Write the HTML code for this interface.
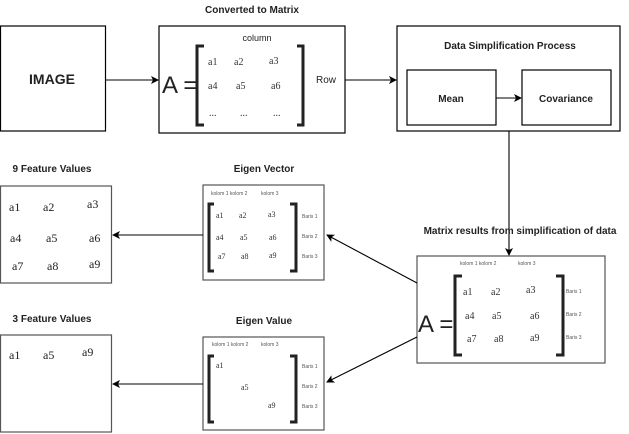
<!DOCTYPE html>
<html><head><meta charset="utf-8"><style>
html,body{margin:0;padding:0;background:#fff;}
svg{display:block;}
.s{font-family:"Liberation Sans",sans-serif;}
.r{font-family:"Liberation Serif",serif;}
</style></head><body>
<svg width="629" height="434" viewBox="0 0 629 434" xmlns="http://www.w3.org/2000/svg">
<defs>
<marker id="a" markerWidth="8" markerHeight="8" refX="7" refY="4" orient="auto" markerUnits="userSpaceOnUse">
<path d="M0,0 L8,4 L0,8 L2,4 Z" fill="#000"/></marker>
</defs>
<g fill="none" stroke="#000" stroke-width="1.2">
<rect x="0.5" y="26" width="105" height="105"/>
<rect x="159" y="26" width="186" height="107"/>
<rect x="397" y="26" width="223" height="105"/>
<rect x="407" y="70" width="89" height="55"/>
<rect x="522" y="70" width="89" height="55"/>
</g>
<g fill="none" stroke="#555" stroke-width="1.2">
<rect x="417" y="256" width="188" height="107"/>
<rect x="203" y="185" width="121" height="95"/>
<rect x="203" y="337" width="121" height="93"/>
<rect x="0.5" y="186" width="111" height="97"/>
<rect x="0.5" y="335" width="111" height="97"/>
</g>
<g stroke="#000" stroke-width="1.1" fill="none">
<line x1="106" y1="80" x2="158" y2="80" marker-end="url(#a)"/>
<line x1="345" y1="80" x2="396" y2="80" marker-end="url(#a)"/>
<line x1="496" y1="98" x2="521" y2="98" marker-end="url(#a)"/>
<line x1="509" y1="131" x2="509" y2="255" marker-end="url(#a)"/>
<line x1="203" y1="235" x2="113" y2="235" marker-end="url(#a)"/>
<line x1="203" y1="384" x2="113" y2="384" marker-end="url(#a)"/>
<line x1="417" y1="283" x2="327" y2="235" marker-end="url(#a)"/>
<line x1="417" y1="337" x2="327" y2="382" marker-end="url(#a)"/>
</g>
<g fill="none" stroke="#222" stroke-width="3">
<path d="M204,46 H197 V125 H204"/><path d="M297,46 H303 V125 H297"/>
<path d="M462,276 H455 V355 H462"/><path d="M556,276 H563 V355 H556"/>
<path d="M214,204 H209 V271 H214"/><path d="M290,204 H296 V271 H290"/>
<path d="M214,356 H209 V422 H214"/><path d="M290,356 H296 V422 H290"/>
</g>
<g class="s" font-weight="bold" font-size="10" fill="#222" text-anchor="middle">
<text x="252" y="13">Converted to Matrix</text>
<text x="510" y="49">Data Simplification Process</text>
<text x="520" y="234">Matrix results from simplification of data</text>
<text x="264" y="172">Eigen Vector</text>
<text x="264" y="324">Eigen Value</text>
<text x="52" y="172">9 Feature Values</text>
<text x="52" y="322">3 Feature Values</text>
<text x="52" y="84" font-size="14">IMAGE</text>
<text x="451" y="102">Mean</text>
<text x="566" y="102">Covariance</text>
</g>
<g class="s" fill="#222">
<text x="162" y="93" font-size="24">A =</text>
<text x="418" y="332" font-size="24">A =</text>
<text x="257" y="41" font-size="9" text-anchor="middle">column</text>
<text x="316" y="83" font-size="10">Row</text>
</g>
<g class="r" font-size="10" fill="#333">
<text x="208" y="65">a1</text><text x="234" y="65">a2</text><text x="269" y="64">a3</text>
<text x="208" y="89">a4</text><text x="236" y="89">a5</text><text x="271" y="89">a6</text>
<text x="209" y="116">...</text><text x="240" y="116">...</text><text x="273" y="116">...</text>
</g>
<g class="r" font-size="10" fill="#333">
<text x="463" y="295">a1</text><text x="491" y="295">a2</text><text x="526" y="293">a3</text>
<text x="465" y="319">a4</text><text x="492" y="319">a5</text><text x="530" y="319">a6</text>
<text x="467" y="342">a7</text><text x="494" y="342">a8</text><text x="530" y="341">a9</text>
</g>
<g class="s" font-size="5" fill="#555">
<text x="460" y="265">kolom 1 kolom 2</text><text x="518" y="265">kolom 3</text>
<text x="566" y="293">Baris 1</text><text x="566" y="316">Baris 2</text><text x="566" y="339">Baris 3</text>
<text x="211" y="195">kolom 1 kolom 2</text><text x="261" y="195">kolom 3</text>
<text x="302" y="218">Baris 1</text><text x="302" y="238">Baris 2</text><text x="302" y="258">Baris 3</text>
<text x="212" y="346">kolom 1 kolom 2</text><text x="261" y="346">kolom 3</text>
<text x="302" y="368">Baris 1</text><text x="302" y="388">Baris 2</text><text x="302" y="408">Baris 3</text>
</g>
<g class="r" font-size="8" fill="#333">
<text x="216" y="218">a1</text><text x="239" y="218">a2</text><text x="268" y="217">a3</text>
<text x="216" y="240">a4</text><text x="240" y="240">a5</text><text x="269" y="240">a6</text>
<text x="218" y="259">a7</text><text x="241" y="259">a8</text><text x="269" y="258">a9</text>
<text x="216" y="368">a1</text><text x="241" y="390">a5</text><text x="268" y="408">a9</text>
</g>
<g class="r" font-size="12" fill="#222">
<text x="9" y="211">a1</text><text x="43" y="211">a2</text><text x="87" y="208">a3</text>
<text x="10" y="242">a4</text><text x="46" y="242">a5</text><text x="89" y="242">a6</text>
<text x="12" y="270">a7</text><text x="47" y="270">a8</text><text x="89" y="268">a9</text>
<text x="9" y="359">a1</text><text x="43" y="359">a5</text><text x="82" y="356">a9</text>
</g>
</svg>
</body></html>
